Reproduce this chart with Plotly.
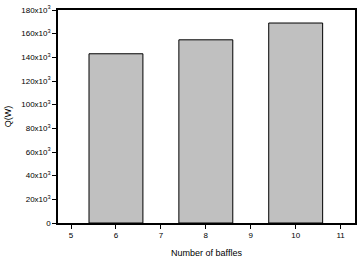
import plotly.graph_objects as go

baffles = [6, 8, 10]
q_values = [143000, 154800, 169000]
y_tickvals = [0, 20000, 40000, 60000, 80000, 100000, 120000, 140000, 160000, 180000]
y_ticktext = ["0"] + [f"{v//1000}x10<sup>3</sup>" for v in y_tickvals[1:]]
x_tickvals = [5, 6, 7, 8, 9, 10, 11]

fig = go.Figure()
fig.add_trace(go.Bar(
    x=baffles, y=q_values, width=1.2,
    marker=dict(color="#c0c0c0", line=dict(color="black", width=1)),
))
font = dict(family="Liberation Sans, Arial, sans-serif", size=8, color="black")
fig.update_layout(
    width=361, height=261,
    margin=dict(l=58, r=4, t=8, b=37),
    paper_bgcolor="white", plot_bgcolor="white",
    showlegend=False,
    font=font,
    xaxis=dict(
        range=[4.71, 11.32], tickvals=x_tickvals, ticks="outside", ticklen=4,
        tickcolor="black", showline=True, linecolor="black", linewidth=1.5,
        mirror=True, showgrid=False, zeroline=False,
        title=dict(text="Number of baffles", font=dict(size=9), standoff=10),
    ),
    yaxis=dict(
        range=[0, 180000], tickvals=y_tickvals, ticktext=y_ticktext,
        ticks="outside", ticklen=4, tickcolor="black", showline=True,
        linecolor="black", linewidth=1.5, mirror=True, showgrid=False,
        zeroline=False,
        title=dict(text="Q(W)", font=dict(size=9), standoff=8),
    ),
)
fig.write_html("out.html", config={"displayModeBar": False},
               post_script="document.body.style.margin='0';document.body.style.overflow='hidden';")
